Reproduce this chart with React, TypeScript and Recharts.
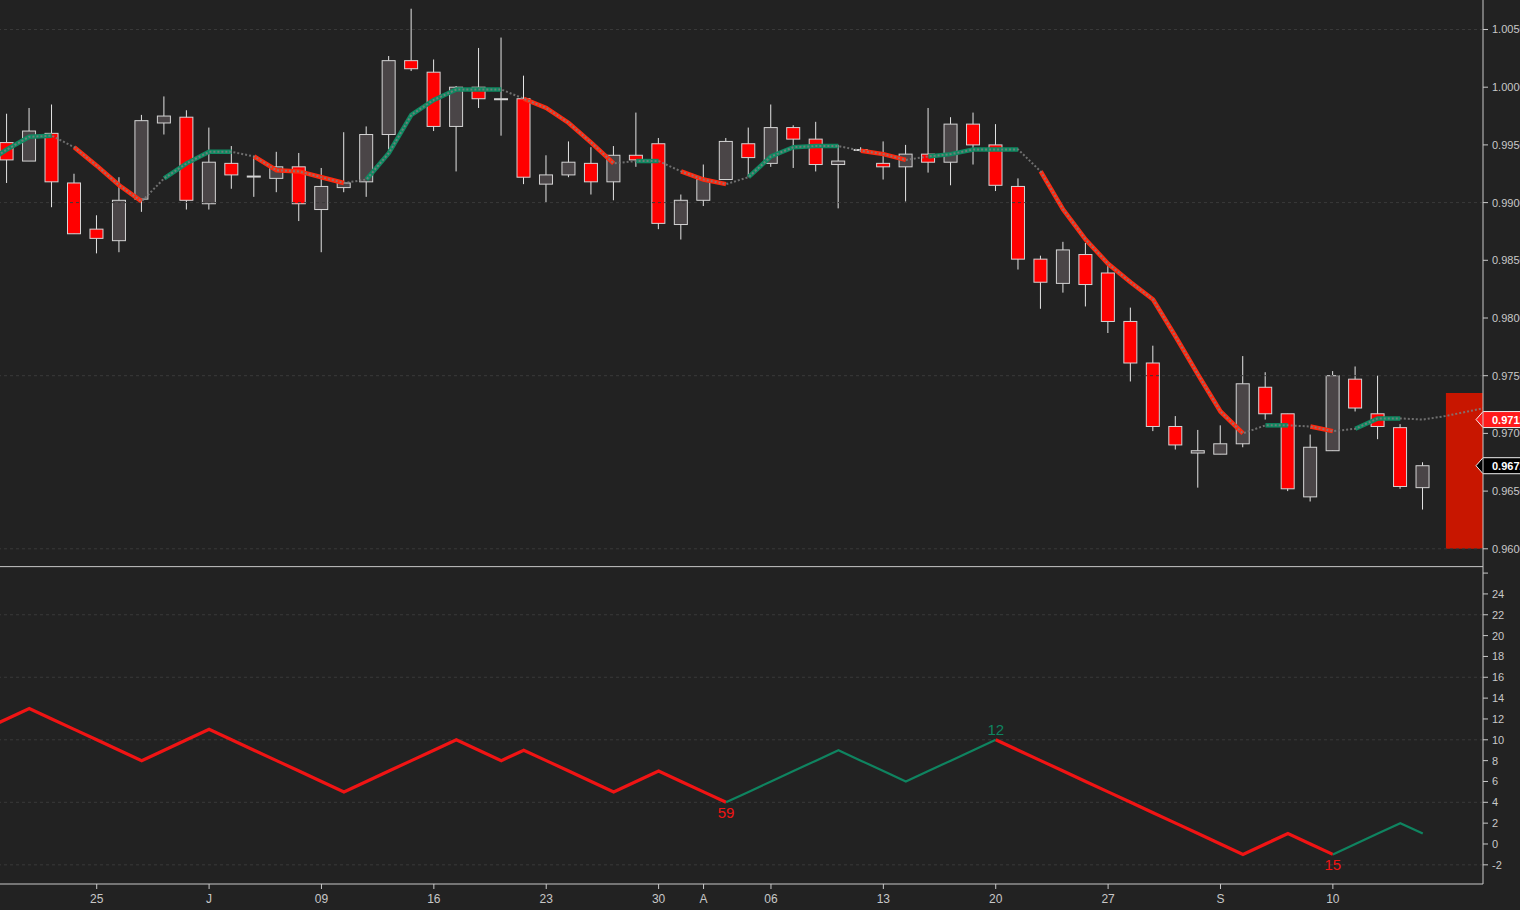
import {
  ComposedChart, LineChart, Line, Bar, XAxis, YAxis,
  ReferenceLine, ReferenceArea, ReferenceDot,
} from 'recharts'

const BG = '#222222'
const AXIS = '#c8c8c8'
const GRID = '#3a3a3a'
const CANDLE_DOWN = '#ff0000'
const CANDLE_UP = '#4a4547'
const CANDLE_EDGE = '#d4d4d4'
const WICK = '#e4e4e4'
const TREND_UP = '#0e8a62'
const TREND_DOWN = '#ff2a10'
const MA_DOTS = '#7c7c7c'
const COUNT_DOWN = '#f01414'
const COUNT_UP = '#0f8460'
const FONT = '"Liberation Sans", Arial, sans-serif'

const WIDTH = 1520
const PRICE_H = 566
const COUNT_H = 344
const AXIS_W = 37

// day index: 0 = Mon 25 Jun 2018, one step per weekday
const X_DOMAIN = [-4.303, 61.68]
const X_TICKS = [0, 5, 10, 15, 20, 25, 27, 30, 35, 40, 45, 50, 55]
const X_TICK_LABELS = ['25', 'J', '09', '16', '23', '30', 'A', '06', '13', '20', '27', 'S', '10']

const PRICE_DOMAIN = [0.95851, 1.007556]
const PRICE_TICKS = [0.96, 0.965, 0.97, 0.975, 0.98, 0.985, 0.99, 0.995, 1.0, 1.005]
const PRICE_GRID = [0.96, 0.975, 0.99, 1.005]

const COUNT_DOMAIN = [-3.84, 26.68]
const COUNT_TICKS = [-2, 0, 2, 4, 6, 8, 10, 12, 14, 16, 18, 20, 22, 24, 26]
const COUNT_GRID = [-2, 4, 10, 16, 22]

// candles, day -4 .. 59
const CANDLE_FROM = -4
const OPEN = [
  0.9952, 0.9936, 0.9960, 0.9917,
  0.9877, 0.9867, 0.9903, 0.9969, 0.9974,
  0.9899, 0.9934, 0.9923, 0.9921, 0.9931,
  0.9894, 0.9913, 0.9918, 0.9959, 1.0023,
  1.0013, 0.9966, 1.0000, 0.9990, 0.9990,
  0.9916, 0.9924, 0.9934, 0.9918, 0.9941,
  0.9951, 0.9881, 0.9902, 0.9920, 0.9951,
  0.9934, 0.9965, 0.9955, 0.9933, 0.9946,
  0.9934, 0.9931, 0.9942, 0.9935, 0.9968,
  0.9950, 0.9914, 0.9851, 0.9830, 0.9855,
  0.9839, 0.9797, 0.9761, 0.9706, 0.9683,
  0.9682, 0.9691, 0.9740, 0.9717, 0.9645,
  0.9685, 0.9747, 0.9717, 0.9705, 0.9653,
]
const HIGH = [
  0.9977, 0.9982, 0.9985, 0.9925,
  0.9889, 0.9922, 0.9976, 0.9992, 0.9980,
  0.9965, 0.9949, 0.9940, 0.9944, 0.9943,
  0.9930, 0.9961, 0.9966, 1.0027, 1.0068,
  1.0024, 1.0001, 1.0034, 1.0043, 1.0010,
  0.9941, 0.9953, 0.9948, 0.9949, 0.9978,
  0.9956, 0.9907, 0.9933, 0.9956, 0.9965,
  0.9985, 0.9967, 0.9970, 0.9950, 0.9948,
  0.9953, 0.9950, 0.9982, 0.9974, 0.9978,
  0.9968, 0.9921, 0.9854, 0.9866, 0.9865,
  0.9845, 0.9809, 0.9776, 0.9715, 0.9703,
  0.9707, 0.9767, 0.9753, 0.9717, 0.9699,
  0.9754, 0.9758, 0.9750, 0.9708, 0.9675,
]
const LOW = [
  0.9917, 0.9936, 0.9896, 0.9873,
  0.9856, 0.9857, 0.9892, 0.9959, 0.9894,
  0.9894, 0.9912, 0.9905, 0.9909, 0.9884,
  0.9857, 0.9909, 0.9905, 0.9946, 1.0014,
  0.9962, 0.9927, 0.9982, 0.9958, 0.9916,
  0.9900, 0.9922, 0.9907, 0.9902, 0.9931,
  0.9877, 0.9868, 0.9897, 0.9920, 0.9922,
  0.9931, 0.9930, 0.9927, 0.9895, 0.9944,
  0.9920, 0.9901, 0.9926, 0.9915, 0.9933,
  0.9910, 0.9842, 0.9808, 0.9822, 0.9810,
  0.9787, 0.9745, 0.9702, 0.9686, 0.9653,
  0.9682, 0.9688, 0.9712, 0.9650, 0.9641,
  0.9685, 0.9719, 0.9695, 0.9652, 0.9634,
]
const CLOSE = [
  0.9937, 0.9962, 0.9918, 0.9873,
  0.9869, 0.9902, 0.9971, 0.9975, 0.9902,
  0.9935, 0.9924, 0.9923, 0.9931, 0.9899,
  0.9914, 0.9917, 0.9959, 1.0023, 1.0016,
  0.9966, 1.0000, 0.9990, 0.9990, 0.9922,
  0.9924, 0.9935, 0.9918, 0.9941, 0.9937,
  0.9882, 0.9902, 0.9920, 0.9953, 0.9939,
  0.9965, 0.9955, 0.9933, 0.9936, 0.9946,
  0.9931, 0.9942, 0.9935, 0.9968, 0.9950,
  0.9915, 0.9851, 0.9831, 0.9859, 0.9829,
  0.9797, 0.9761, 0.9706, 0.9690, 0.9685,
  0.9691, 0.9743, 0.9717, 0.9652, 0.9688,
  0.9750, 0.9722, 0.9706, 0.9654, 0.9672,
]

// moving average and counter, day -5 .. 62 / -5 .. 59
const FIRST_DAY = -5
const MA = [
  0.9933, 0.9946, 0.9957, 0.9958, 0.9948,
  0.9932, 0.9915, 0.9901, 0.9921, 0.9934,
  0.9944, 0.9944, 0.9940, 0.9928, 0.9927,
  0.9922, 0.9917, 0.9920, 0.9943, 0.9976,
  0.9989, 0.9998, 0.9998, 0.9998, 0.9990,
  0.9982, 0.9969, 0.9952, 0.9934, 0.9936,
  0.9936, 0.9927, 0.9920, 0.9916, 0.9922,
  0.9940, 0.9948, 0.9949, 0.9949, 0.9945,
  0.9942, 0.9937, 0.9940, 0.9942, 0.9946,
  0.9946, 0.9946, 0.9927, 0.9894, 0.9868,
  0.9847, 0.9831, 0.9816, 0.9784, 0.9751,
  0.9719, 0.9700, 0.9707, 0.9707, 0.9706,
  0.9702, 0.9704, 0.9713, 0.9713, 0.9712,
  0.9715, 0.9719, 0.9723,
]
// colour of each segment that starts at a point: g up, r down, n neutral
const MA_TREND =
  'gggnr' + 'rrngg' + 'gnrrr' + 'rnggg' + 'gggnr' + 'rrrng' + 'nrrng' +
  'gggnr' + 'rnggg' + 'gnrrr' + 'rrrrr' + 'rngnr' + 'nggnn' + 'nn'

const COUNT = [
  11, 12, 13, 12, 11,
  10, 9, 8, 9, 10,
  11, 10, 9, 8, 7,
  6, 5, 6, 7, 8,
  9, 10, 9, 8, 9,
  8, 7, 6, 5, 6,
  7, 6, 5, 4, 5,
  6, 7, 8, 9, 8,
  7, 6, 7, 8, 9,
  10, 9, 8, 7, 6,
  5, 4, 3, 2, 1,
  0, -1, 0, 1, 0,
  -1, 0, 1, 2, 1,
]
const COUNT_TREND =
  'rrrrr' + 'rrrrr' + 'rrrrr' + 'rrrrr' + 'rrrrr' + 'rrrrr' + 'rrrgg' +
  'ggggg' + 'ggggg' + 'rrrrr' + 'rrrrr' + 'rrrrr' + 'gggg'
const COUNT_MARKS = [
  { day: 28, text: '59', side: 'bottom', trend: 'r' },
  { day: 40, text: '12', side: 'top', trend: 'g' },
  { day: 55, text: '15', side: 'bottom', trend: 'r' },
]

const FORECAST = { from: 60.03, low: 0.96, high: 0.9735 }

type Run = { key: string; kind: string; from: number; to: number }

function findRuns(trend: string, prefix: string): Run[] {
  const runs: Run[] = []
  let i = 0
  while (i < trend.length) {
    const kind = trend[i]
    let j = i
    while (j + 1 < trend.length && trend[j + 1] === kind) j++
    if (kind !== 'n') runs.push({ key: `${prefix}${runs.length}`, kind, from: i, to: j + 1 })
    i = j + 1
  }
  return runs
}

const maRuns = findRuns(MA_TREND, 'ma')
const countRuns = findRuns(COUNT_TREND, 'cnt')

const rows = MA.map((ma, k) => {
  const i = FIRST_DAY + k
  const c = i - CANDLE_FROM
  const row: Record<string, number | null> = { i, ma, count: COUNT[k] ?? null }
  if (c >= 0 && c < OPEN.length) {
    row.o = OPEN[c]
    row.h = HIGH[c]
    row.l = LOW[c]
    row.c = CLOSE[c]
  }
  return row
})
for (const run of maRuns) for (let k = run.from; k <= run.to; k++) rows[k][run.key] = MA[k]
for (const run of countRuns) for (let k = run.from; k <= run.to; k++) rows[k][run.key] = COUNT[k]

const lastCandle = OPEN.length - 1
const lastClose = CLOSE[lastCandle]
const lastMa = MA[lastCandle + CANDLE_FROM - FIRST_DAY]

function Candle(props: any) {
  const { x, y, width, height, payload } = props
  if (!payload || payload.o == null || !height) return null
  const { o, h, l, c } = payload
  const top = Math.min(y, y + height)
  const full = Math.abs(height)
  const ppu = full / (h - l)
  const bodyTop = top + (h - Math.max(o, c)) * ppu
  const bodyBottom = top + (h - Math.min(o, c)) * ppu
  const mid = x + width / 2
  return (
    <g>
      <line x1={mid} x2={mid} y1={top} y2={top + full} stroke={WICK} strokeWidth={1} />
      <rect
        x={x + 0.5}
        y={bodyTop}
        width={width - 1}
        height={Math.max(bodyBottom - bodyTop, 1)}
        fill={c < o ? CANDLE_DOWN : CANDLE_UP}
        stroke={CANDLE_EDGE}
        strokeWidth={1}
      />
    </g>
  )
}

function PriceBadge({ viewBox, text, fill }: any) {
  if (!viewBox) return null
  const r = viewBox.x + viewBox.width
  const y = viewBox.y
  return (
    <g>
      <polygon
        points={`${r - 7},${y} ${r},${y - 8} ${r + 44},${y - 8} ${r + 44},${y + 8} ${r},${y + 8}`}
        fill={fill}
        stroke="#f0f0f0"
        strokeWidth={1}
      />
      <text x={r + 9} y={y + 4} fill="#ffffff" fontSize={11} fontWeight="bold" fontFamily={FONT}>
        {text}
      </text>
    </g>
  )
}

const axisTick = { fill: AXIS, fontSize: 11, fontFamily: FONT }

export default function App() {
  return (
    <div style={{ position: 'absolute', left: 0, top: 0, width: WIDTH, height: PRICE_H + COUNT_H, background: BG, fontFamily: FONT, overflow: 'hidden' }}>
      <ComposedChart width={WIDTH} height={PRICE_H} data={rows} margin={{ top: 0, right: 0, bottom: 0, left: 0 }}>
        <XAxis dataKey="i" type="number" domain={X_DOMAIN} allowDataOverflow hide />
        <YAxis
          orientation="right"
          type="number"
          domain={PRICE_DOMAIN}
          allowDataOverflow
          ticks={PRICE_TICKS}
          interval={0}
          width={AXIS_W}
          tickFormatter={(v: number) => v.toFixed(4)}
          tick={axisTick}
          tickSize={5}
          tickMargin={4}
          axisLine={{ stroke: AXIS }}
          tickLine={{ stroke: AXIS }}
        />
        {PRICE_GRID.map((v) => (
          <ReferenceLine key={v} y={v} stroke={GRID} strokeDasharray="3 3" />
        ))}
        <ReferenceArea
          x1={FORECAST.from}
          x2={X_DOMAIN[1]}
          y1={FORECAST.low}
          y2={FORECAST.high}
          fill="#c81600"
          fillOpacity={1}
          stroke="none"
        />
        <Bar
          dataKey={(d: any) => (d.h == null ? null : [d.l, d.h])}
          barSize={14}
          shape={<Candle />}
          isAnimationActive={false}
        />
        {maRuns.map((run) => (
          <Line
            key={run.key}
            dataKey={run.key}
            type="linear"
            stroke={run.kind === 'g' ? TREND_UP : TREND_DOWN}
            strokeWidth={4.5}
            dot={false}
            activeDot={false}
            isAnimationActive={false}
          />
        ))}
        <Line
          dataKey="ma"
          type="linear"
          stroke={MA_DOTS}
          strokeOpacity={0.85}
          strokeWidth={2}
          strokeDasharray="2 2"
          dot={false}
          activeDot={false}
          isAnimationActive={false}
        />
        <ReferenceLine
          y={lastMa}
          stroke="transparent"
          label={(p: any) => <PriceBadge viewBox={p.viewBox} text={lastMa.toFixed(4)} fill="#ff1a1a" />}
        />
        <ReferenceLine
          y={lastClose}
          stroke="transparent"
          label={(p: any) => <PriceBadge viewBox={p.viewBox} text={lastClose.toFixed(4)} fill="#000000" />}
        />
      </ComposedChart>

      <LineChart width={WIDTH} height={COUNT_H} data={rows} margin={{ top: 0, right: 0, bottom: 0, left: 0 }}>
        <XAxis
          dataKey="i"
          type="number"
          domain={X_DOMAIN}
          allowDataOverflow
          ticks={X_TICKS}
          interval={0}
          height={26}
          tickFormatter={(v: number) => X_TICK_LABELS[X_TICKS.indexOf(v)] ?? ''}
          tick={{ ...axisTick, fontSize: 12 }}
          tickSize={5}
          tickMargin={5}
          axisLine={{ stroke: AXIS }}
          tickLine={{ stroke: AXIS }}
        />
        <YAxis
          orientation="right"
          type="number"
          domain={COUNT_DOMAIN}
          allowDataOverflow
          ticks={COUNT_TICKS}
          interval={0}
          width={AXIS_W}
          tickFormatter={(v: number) => (v === 26 ? '' : String(v))}
          tick={axisTick}
          tickSize={5}
          tickMargin={4}
          axisLine={{ stroke: AXIS }}
          tickLine={{ stroke: AXIS }}
        />
        <ReferenceLine y={COUNT_DOMAIN[1] - 0.06} stroke={AXIS} ifOverflow="visible" />
        {COUNT_GRID.map((v) => (
          <ReferenceLine key={v} y={v} stroke={GRID} strokeDasharray="3 3" />
        ))}
        {countRuns.map((run) => (
          <Line
            key={run.key}
            dataKey={run.key}
            type="linear"
            stroke={run.kind === 'g' ? COUNT_UP : COUNT_DOWN}
            strokeWidth={run.kind === 'g' ? 2.2 : 3.2}
            dot={false}
            activeDot={false}
            isAnimationActive={false}
          />
        ))}
        {COUNT_MARKS.map((m) => (
          <ReferenceDot
            key={m.day}
            x={m.day}
            y={COUNT[m.day - FIRST_DAY]}
            r={1}
            fill="none"
            stroke="none"
            label={{
              value: m.text,
              position: m.side,
              offset: 4,
              fill: m.trend === 'g' ? COUNT_UP : COUNT_DOWN,
              fontSize: 15,
              fontFamily: FONT,
            }}
          />
        ))}
      </LineChart>
    </div>
  )
}
